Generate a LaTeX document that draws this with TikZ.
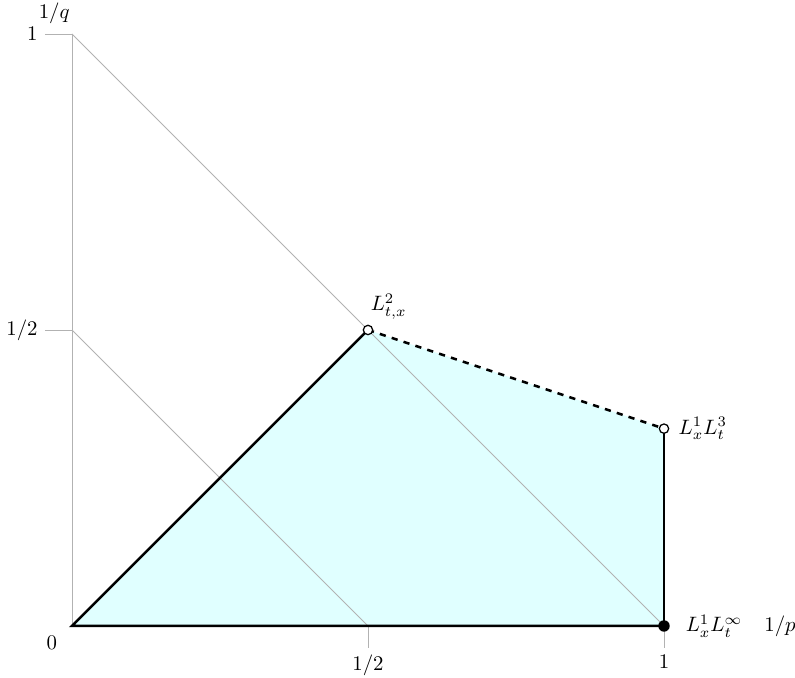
\documentclass[tikz,border=0pt]{standalone}
\usepackage{amsmath, amssymb}
\usepackage{tikz}
\usetikzlibrary{positioning}

\definecolor{regioncyan}{RGB}{224, 255, 255}

\tikzset{
  guide/.style={gray!60, thin},
  edge/.style={black, very thick},
  opendot/.style={circle, draw=black, fill=white, semithick, inner sep=0pt, minimum size=4.5pt},
  fulldot/.style={circle, fill=black, inner sep=0pt, minimum size=5.5pt}
}

\begin{document}
\begin{tikzpicture}[x=10cm, y=10cm]
            \useasboundingbox (-0.1216, -0.0878) rectangle (1.2213, 1.0574);
            % Corners of the region
            \coordinate (O) at (0, 0);
            \coordinate (Ytop) at (0, 1);
            \coordinate (Yhalf) at (0, 0.5);
            \coordinate (Xhalf) at (0.5, 0);
            \coordinate (Xone) at (1, 0);
            \coordinate (Mid) at (0.5, 0.5);
            \coordinate (Edge) at (1, 1/3);
            % Shaded region
            \fill[regioncyan] (O) -- (Mid) -- (Edge) -- (Xone) -- cycle;
            % Axis and guide lines
            \draw[guide] (O) -- (Ytop);
            \draw[guide] (Ytop) -- (Xone);
            \draw[guide] (Yhalf) -- (Xhalf);
            % Ticks
            \coordinate (tYtop) at (-0.0456, 1);
            \coordinate (tYhalf) at (-0.0456, 0.5);
            \coordinate (tXhalf) at (0.5, -0.037);
            \coordinate (tXone) at (1, -0.037);
            \draw[guide] (tYtop) -- (Ytop);
            \draw[guide] (tYhalf) -- (Yhalf);
            \draw[guide] (Xhalf) -- (tXhalf);
            \draw[guide] (Xone) -- (tXone);
            % Tick labels
            \node[anchor=east] (lYtop) at (tYtop) {$1$};
            \node[anchor=east] (lYhalf) at (tYhalf) {$1/2$};
            \node[anchor=north] (lXhalf) at (tXhalf) {$1/2$};
            \node[anchor=north] (lXone) at (tXone) {$1$};
            \node (lO) at (-0.034, -0.029) {$0$};
            \node (lq) at (-0.03, 1.035) {$1/q$};
            \node (lp) at (1.196, 0) {$1/p$};
            % Boundary
            \draw[edge] (Xone) -- (O) -- (Mid);
            \draw[edge, dashed] (Mid) -- (Edge);
            \draw[edge] (Edge) -- (Xone);
            % End points
            \node[opendot] (pMid) at (Mid) {};
            \node[opendot] (pEdge) at (Edge) {};
            \node[fulldot] (pOne) at (Xone) {};
            \node[above right=0pt and -4pt of pMid] {$L^2_{t,x}$};
            \node[right=1pt of pEdge] {$L^1_xL^3_t$};
            \node[right=4pt of pOne] {$L^1_xL^\infty_t$};
        \end{tikzpicture}
\end{document}
